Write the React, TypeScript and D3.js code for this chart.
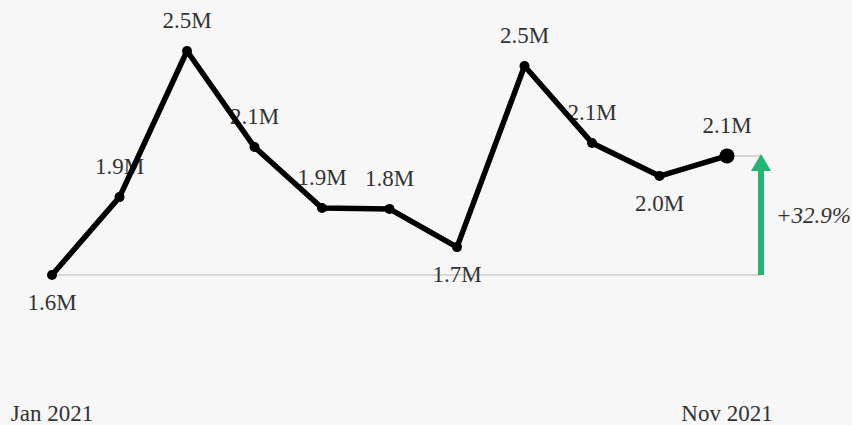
import React from 'react'
import * as d3 from 'd3'

const WIDTH = 852
const HEIGHT = 425
const MARGIN = { top: 51, right: 125, bottom: 150, left: 52 }

// monthly totals, Jan..Nov 2021
const months = ['Jan 2021', 'Feb 2021', 'Mar 2021', 'Apr 2021', 'May 2021', 'Jun 2021',
  'Jul 2021', 'Aug 2021', 'Sep 2021', 'Oct 2021', 'Nov 2021']
const values = [1562500, 1899000, 2530000, 2115000, 1852000, 1848000,
  1683000, 2465000, 2133000, 1990000, 2077000]
const axisLabels = ['Jan 2021', 'Nov 2021']

const fmt = (v: number) => (v / 1e6).toFixed(1) + 'M'

export default function App() {
  const x = d3.scalePoint<string>()
    .domain(months)
    .range([MARGIN.left, WIDTH - MARGIN.right])

  const [minV, maxV] = d3.extent(values) as [number, number]
  const y = d3.scaleLinear()
    .domain([minV, maxV])
    .range([HEIGHT - MARGIN.bottom, MARGIN.top])

  const pts = months.map((m, i) => ({ m, v: values[i] }))
  const line = d3.line<{ m: string, v: number }>()
    .x(d => x(d.m)!)
    .y(d => y(d.v))

  const first = pts[0], last = pts[pts.length - 1]
  const change = (last.v - first.v) / first.v
  const arrowX = x(last.m)! + 34
  const y0 = y(first.v), y1 = y(last.v)

  const isLow = (i: number) => {
    const prev = i > 0 ? values[i - 1] : Infinity
    const next = i < values.length - 1 ? values[i + 1] : Infinity
    return values[i] < prev && values[i] < next
  }

  const font = '"Liberation Serif", "Times New Roman", serif'

  return (
    <svg width={WIDTH} height={HEIGHT}
      style={{ position: 'absolute', left: 0, top: 0, background: '#f7f7f7' }}>
      {/* reference lines */}
      <line x1={x(first.m)} x2={arrowX} y1={y0} y2={y0} stroke="#cccccc" strokeWidth={1.5} />
      <line x1={x(last.m)} x2={arrowX} y1={y1} y2={y1} stroke="#cccccc" strokeWidth={1.5} />

      {/* value labels */}
      {pts.map((d, i) => (
        <text key={d.m} x={x(d.m)} y={isLow(i) ? y(d.v) + 35 : y(d.v) - 23}
          textAnchor="middle" fontFamily={font} fontSize={23} fill="#333">
          {fmt(d.v)}
        </text>
      ))}

      <path d={line(pts) || ''} fill="none" stroke="#000" strokeWidth={5.5} strokeLinejoin="round" />
      {pts.map((d, i) => (
        <circle key={d.m} cx={x(d.m)} cy={y(d.v)} r={i === pts.length - 1 ? 7.5 : 5} fill="#000" />
      ))}

      {/* change arrow */}
      <line x1={arrowX} x2={arrowX} y1={y0} y2={y1 + 14} stroke="#22b573" strokeWidth={6} />
      <path d={`M${arrowX - 10},${y1 + 15} L${arrowX},${y1 - 2} L${arrowX + 10},${y1 + 15} Z`} fill="#22b573" />
      <text x={arrowX + 15} y={(y0 + y1) / 2} dy="0.35em" fontFamily={font} fontSize={23}
        fontStyle="italic" fill="#333">
        {(change >= 0 ? '+' : '') + (change * 100).toFixed(1) + '%'}
      </text>

      {/* x labels */}
      {axisLabels.map(l => (
        <text key={l} x={x(l)} y={421} textAnchor="middle" fontFamily={font} fontSize={23} fill="#333">
          {l}
        </text>
      ))}
    </svg>
  )
}
